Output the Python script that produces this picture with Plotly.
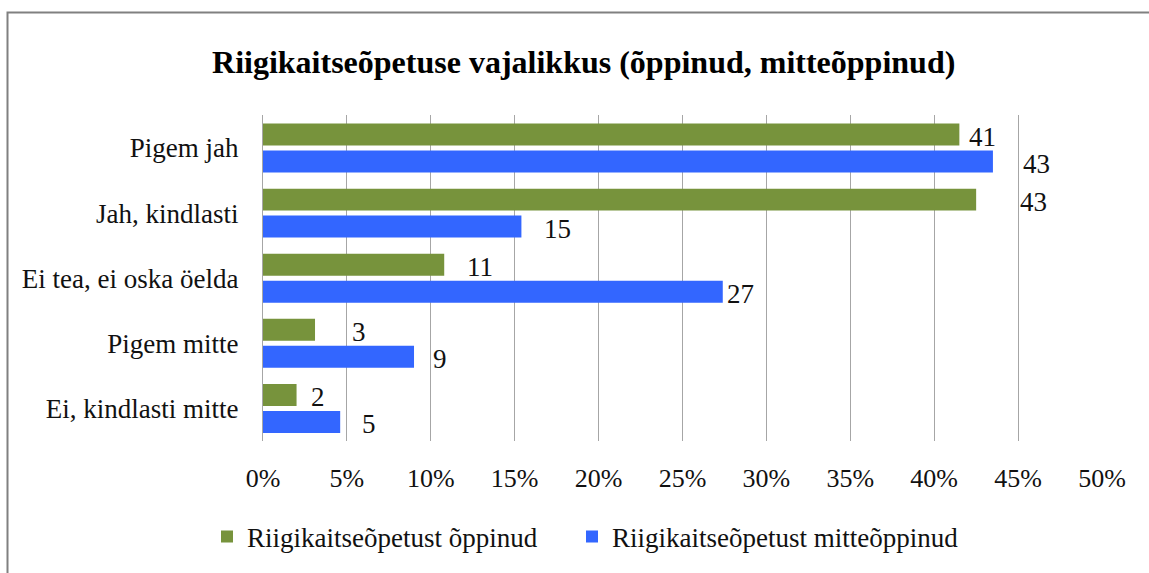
import plotly.graph_objects as go

categories = ["Pigem jah", "Jah, kindlasti", "Ei tea, ei oska öelda", "Pigem mitte", "Ei, kindlasti mitte"]
series_names = ["Riigikaitseõpetust õppinud", "Riigikaitseõpetust mitteõppinud"]
learned = [41.5, 42.5, 10.8, 3.1, 2.0]
not_learned = [43.5, 15.4, 27.4, 9.0, 4.6]
learned_labels = ["41", "43", "11", "3", "2"]
not_learned_labels = ["43", "15", "27", "9", "5"]
x_ticks = [0, 5, 10, 15, 20, 25, 30, 35, 40, 45, 50]

GREEN = "#77933C"
BLUE = "#3366FF"
FONT = "Liberation Serif"

# label placement styles (pixel offsets from bar end, as in the original)
learned_xshift = [8, 42, 21, 35, 12]
not_learned_xshift = [28, 21, 2, 17, 20]

fig = go.Figure()
fig.add_trace(go.Bar(y=categories, x=learned, name=series_names[0], orientation="h",
                     marker=dict(color=GREEN, line=dict(width=0)), legend="legend"))
fig.add_trace(go.Bar(y=categories, x=not_learned, name=series_names[1], orientation="h",
                     marker=dict(color=BLUE, line=dict(width=0)), legend="legend2"))

annotations = []
for vals, labs, shifts, ysh in [(learned, learned_labels, learned_xshift, 11),
                                 (not_learned, not_learned_labels, not_learned_xshift, -16)]:
    for c, v, t, s in zip(categories, vals, labs, shifts):
        annotations.append(dict(x=v, y=c, xref="x", yref="y", text=t, showarrow=False,
                                xanchor="left", yanchor="middle", xshift=s, yshift=ysh,
                                font=dict(family=FONT, size=27, color="#111111")))

legend_style = dict(orientation="h", y=-0.294, yanchor="middle", xanchor="left",
                    font=dict(family=FONT, size=27, color="#111111"), itemwidth=30,
                    bgcolor="rgba(0,0,0,0)")

fig.update_layout(
    width=1149, height=573,
    margin=dict(l=263, r=47, t=115, b=132),
    paper_bgcolor="white", plot_bgcolor="white",
    barmode="group", bargap=0.172, bargroupgap=0.185,
    font=dict(family=FONT, size=26, color="#111111"),
    title=dict(text="<b>Riigikaitseõpetuse vajalikkus (õppinud, mitteõppinud)</b>",
               x=0.508, xanchor="center", y=1 - 62 / 573, yanchor="middle", yref="container",
               font=dict(family=FONT, size=32, color="#000000")),
    xaxis=dict(range=[0, 50], tickvals=x_ticks, ticktext=[f"{v}%" for v in x_ticks],
               showgrid=True, gridcolor="#A6A6A6", gridwidth=1.3, zeroline=False,
               showline=False, ticks="", ticklabelstandoff=19,
               tickfont=dict(family=FONT, size=26, color="#111111"), fixedrange=True),
    yaxis=dict(autorange="reversed", showgrid=False, showline=True, linecolor="#A6A6A6",
               linewidth=1.3, ticks="", ticklabelstandoff=18, fixedrange=True,
               tickfont=dict(family=FONT, size=27, color="#111111")),
    legend=dict(x=(207 - 263) / 839, **legend_style),
    legend2=dict(x=(572 - 263) / 839, **legend_style),
    annotations=annotations,
    shapes=[dict(type="rect", xref="paper", yref="paper",
                 x0=(7.5 - 263) / 839, x1=1.2, y0=-0.6, y1=1 + (115 - 12.5) / 326,
                 line=dict(color="#808080", width=2), fillcolor="rgba(0,0,0,0)", layer="below")],
    showlegend=True,
)

fig.write_html("out.html", config={"displayModeBar": False},
               post_script="document.body.style.margin='0';")
